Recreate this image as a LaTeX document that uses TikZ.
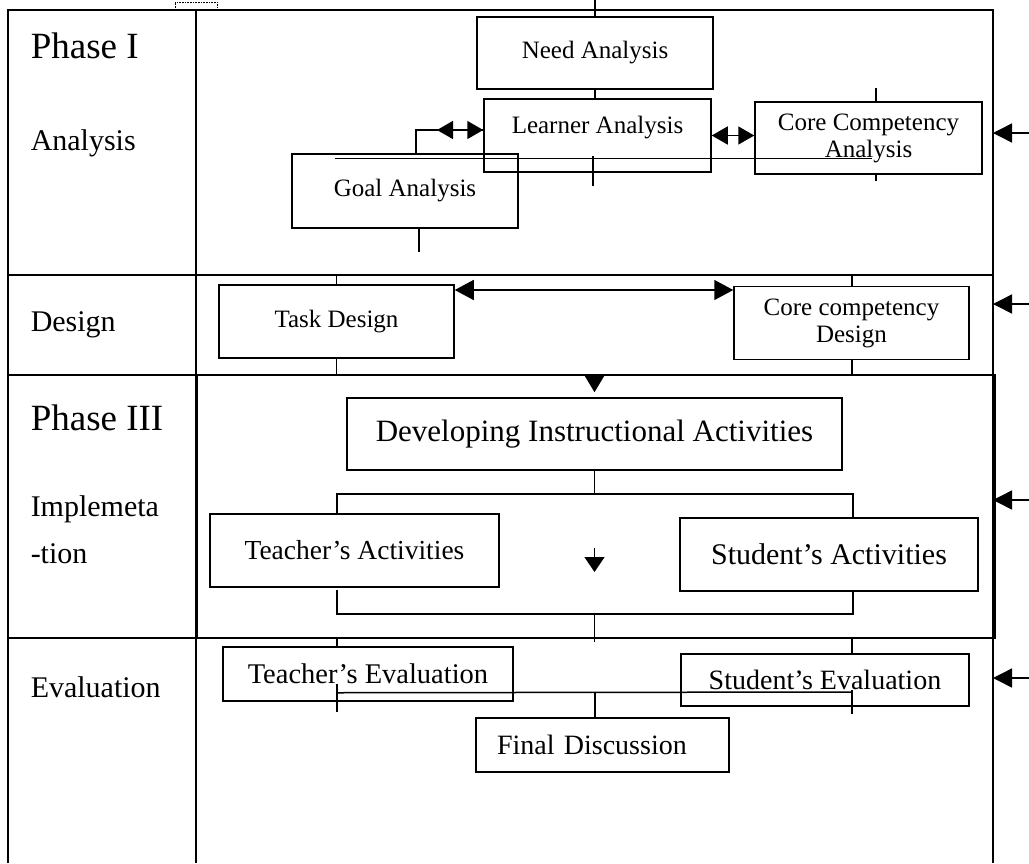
\documentclass[tikz,border=0pt]{standalone}
\usepackage{fontspec}
\setmainfont{Liberation Serif}
\usetikzlibrary{arrows.meta}

\begin{document}
\begin{tikzpicture}[x=1pt, y=-1pt, line width=1.5pt,
		box/.style={draw, inner sep=0pt, align=center, font=\fontsize{25}{27}\selectfont},
		stage/.style={anchor=base west, inner sep=0pt, font=\fontsize{30}{36}\selectfont},
		phase/.style={anchor=base west, inner sep=0pt, font=\fontsize{37}{44}\selectfont},
		both/.style={{Triangle[length=16pt,width=18pt]}-{Triangle[length=16pt,width=18pt]}},
		bothwide/.style={{Triangle[length=19pt,width=20pt]}-{Triangle[length=19pt,width=20pt]}},
		tip/.style={-{Triangle[length=19pt,width=19pt]}}]
				\useasboundingbox (0,0) rectangle (1029,863);
				
				% table frame
				\draw (8,863) -- (8,10) -- (993,10) -- (993,863);
				\draw (196,10) -- (196,863);
				\draw (8,275) -- (993,275);
				\draw (8,375) -- (993,375);
				\draw (8,638) -- (993,638);
				\draw (197,375) rectangle (995,638);
				\draw [densely dotted, line width=0.6pt] (175,8) |- (217,2) -- (217,8);
				
				% left column
				\node (ph1) [phase] at (30,58) {Phase I};
				\node (anal) [stage] at (30,150) {Analysis};
				\node (desg) [stage] at (30,331) {Design};
				\node (ph3) [phase] at (30,430) {Phase III};
				\node (impl) [stage] at (30,516) {Implemeta};
				\node (tion) [stage] at (30,563) {-tion};
				\node (eval) [stage] at (30,697) {Evaluation};
				
				% boxes
				\node (need) [box, minimum width=236pt, minimum height=72pt] at (595,53) {Need Analysis};
				\node (learner) [box, minimum width=227pt, text height=34pt, text depth=39pt] at (597.5,135.5) {Learner Analysis};
				\node (goal) [box, minimum width=226pt, minimum height=74pt] at (405,191) {Goal Analysis};
				\node (corea) [box, minimum width=227pt, minimum height=72pt] at (868.5,138) {Core Competency\\Analysis};
				\node (task) [box, minimum width=235pt, minimum height=73pt] at (336.5,321.5) {Task Design};
				\node (cored) [box, minimum width=235pt, minimum height=73pt] at (851.5,323) {Core competency\\Design};
				\node (dev) [box, minimum width=495pt, minimum height=72pt, font=\fontsize{31}{36}\selectfont] at (594.5,434) {Developing Instructional Activities};
				\node (teacha) [box, minimum width=289pt, minimum height=73pt, font=\fontsize{27.5}{32}\selectfont] at (354.5,550.5) {Teacher’s Activities};
				\node (studa) [box, minimum width=298pt, minimum height=73pt, font=\fontsize{30}{34}\selectfont] at (829,554.5) {Student’s Activities};
				\node (teache) [box, minimum width=290pt, minimum height=54pt, font=\fontsize{28.5}{32}\selectfont] at (368,674) {Teacher’s Evaluation};
				\node (stude) [box, minimum width=288pt, minimum height=52pt, font=\fontsize{28}{32}\selectfont] at (825,680) {Student’s Evaluation};
				\node (final) [box, inner xsep=21pt, text width=211pt, align=left, minimum height=54pt, font=\fontsize{28}{32}\selectfont] at (602.5,745) {Final Discussion};
				
				% analysis links
				\coordinate (top) at (595,0);
				\draw (top) -- (need.north);
				\draw (need.south) -- (need.south |- learner.north);
				\draw (learner.south -| 593,0) ++(0,-17) -- ++(0,30);
				\draw (goal.north west) ++(44,5) -- ++(537,0);
				\draw (goal.north -| 416,0) |- (learner.west |- 0,130);
				\draw [both] (437,130) -- (learner.west |- 0,130);
				\draw [both] (learner.east) -- (learner.east -| corea.west);
				\draw (corea.north -| 876,0) -- ++(0,-13);
				\draw (corea.south -| 876,0) -- ++(0,6);
				\draw (goal.south -| 419,0) -- ++(0,23);
				
				% design links
				\draw (task.north) -- ++(0,-10);
				\draw (task.south) -- ++(0,17);
				\draw (cored.north -| 852,0) -- (852,275);
				\draw (cored.south -| 852,0) -- (852,375);
				\draw [bothwide] (task.east |- 0,290) -- (cored.west |- 0,290);
				
				% implementation links
				\draw [-{Triangle[length=17pt,width=20pt]}] (dev.north |- 0,375) -- ([yshift=5pt]dev.north);
				\draw (dev.south) -- (dev.south |- 0,494);
				\draw (teacha.north -| 337,0) -- (337,494) -- (853,494) -- (studa.north -| 853,0);
				\draw [-{Triangle[length=15pt,width=20pt]}] (dev.south |- 0,548) -- (dev.south |- 0,572);
				\draw (teacha.south -| 337,0) ++(0,2) -- (337,614) -- (853,614) -- (studa.south -| 853,0);
				\draw (dev.south |- 0,614) -- (dev.south |- 0,642);
				
				% evaluation links
				\draw (teache.north -| 337,0) -- (337,638);
				\draw (stude.north -| 852,0) -- (852,638);
				\draw (teache.south -| 337,0) ++(0,-18) -- ++(0,28);
				\draw (stude.south -| 852,0) ++(0,-17) -- ++(0,24);
				\draw (teache.south -| 337,0) ++(0,-9) -- (852,692);
				\draw (595,692) -- (final.north -| 595,0);
				
				% arrows from the right
				\foreach \y in {133,304,500,678}
				\draw [tip] (1029,\y) -- (993,\y);
			\end{tikzpicture}
\end{document}
